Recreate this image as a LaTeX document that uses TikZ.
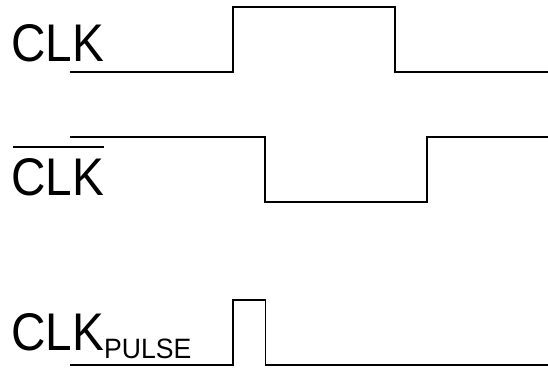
\documentclass[tikz,border=0pt]{standalone}
\usepackage{fontspec}
\usepackage{graphicx}
\setmainfont{Liberation Sans}
\newcommand{\bigtxt}[1]{\scalebox{0.9}[1]{\fontsize{53}{60}\selectfont #1}}
\newcommand{\subtxt}[1]{\scalebox{0.95}[1]{\fontsize{28}{32}\selectfont #1}}
\begin{document}
\begin{tikzpicture}[x=1pt,y=-1pt,
  wave/.style={line width=1.3pt, line join=miter},
  biglabel/.style={anchor=base west, inner sep=0pt},
  sublabel/.style={anchor=base west, inner sep=0pt}]
\useasboundingbox (0,0) rectangle (548,367);
% labels
\node[biglabel] (clk) at (11,61) {\bigtxt{CLK}};
\node[biglabel] (clkbar) at (11,195) {\bigtxt{CLK}};
\node[biglabel] (clkp) at (11,350) {\bigtxt{CLK}};
\node[sublabel] (pulse) at (104,358) {\subtxt{PULSE}};
\draw[line width=1.8pt] ([yshift=11pt,xshift=1.5pt]clkbar.north west) -- ([yshift=11pt]clkbar.north east);
% waveforms
\draw[wave] (70,72) -- (233,72) -- (233,7) -- (395,7) -- (395,72) -- (548,72);
\draw[wave] (70,137) -- (265,137) -- (265,202) -- (427,202) -- (427,137) -- (548,137);
\draw[wave] (70,365) -- (233,365) -- (233,300) -- (265.5,300) -- (265.5,365) -- (548,365);
\end{tikzpicture}
\end{document}
